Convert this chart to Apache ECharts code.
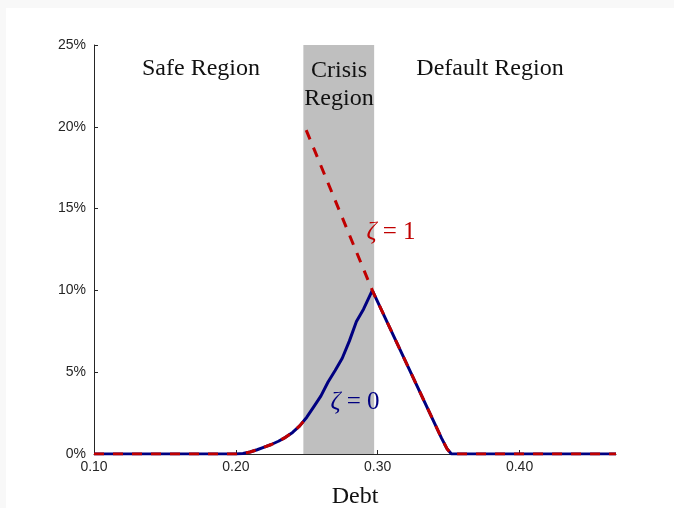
<!DOCTYPE html>
<html>
<head>
<meta charset="utf-8">
<script src="https://cdn.jsdelivr.net/npm/echarts@6/dist/echarts.min.js"></script>
<style>
  html, body { margin: 0; padding: 0; background: #f8f8f8; overflow: hidden; }
  #chart { position: absolute; left: 6px; top: 8px; width: 668px; height: 500px; background: #fff; }
</style>
</head>
<body>
<div id="chart"></div>
<script>
// debt grid and default probability (%) for zeta = 0
var blueX = [0.10, 0.20, 0.205, 0.21, 0.215, 0.22, 0.225, 0.23, 0.235, 0.24, 0.245, 0.25, 0.255, 0.26, 0.265, 0.27, 0.275, 0.28, 0.285, 0.29, 0.2962, 0.305, 0.315, 0.325, 0.335, 0.345, 0.349, 0.352, 0.468];
var blueY = [0, 0, 0.03, 0.12, 0.26, 0.42, 0.58, 0.78, 1.02, 1.32, 1.72, 2.25, 2.9, 3.55, 4.4, 5.1, 5.85, 6.9, 8.1, 8.85, 10.0, 8.37, 6.52, 4.67, 2.82, 0.97, 0.3, 0, 0];
// zeta = 1: follows zeta = 0 outside the crisis region
var redX = [0.10, 0.20, 0.205, 0.21, 0.215, 0.22, 0.225, 0.23, 0.235, 0.24, 0.245, 0.2476, null, 0.2496, 0.2962, 0.305, 0.315, 0.325, 0.335, 0.345, 0.349, 0.352, 0.468];
var redY = [0, 0, 0.03, 0.12, 0.26, 0.42, 0.58, 0.78, 1.02, 1.32, 1.72, 1.98, null, 19.8, 10.0, 8.37, 6.52, 4.67, 2.82, 0.97, 0.3, 0, 0];
var crisisRange = [0.2476, 0.2975];
var yTicks = [0, 5, 10, 15, 20, 25];

var serif = 'Liberation Serif, DejaVu Serif, serif';
var navy = '#000080';
var red = '#c00000';

function pairs(xs, ys) {
    return xs.map(function (x, i) {
        return x === null ? [null, null] : [x, ys[i]];
    });
}

var chart = echarts.init(document.getElementById('chart'), null, { width: 668, height: 500 });

var option = {
    animation: false,
    grid: { left: 88, right: 58, top: 37, bottom: 54, outerBoundsMode: 'none' },
    xAxis: {
        type: 'value',
        min: 0.1,
        max: 0.468,
        interval: 0.1,
        name: 'Debt',
        nameLocation: 'middle',
        nameGap: 31,
        nameTextStyle: { fontFamily: serif, fontSize: 24, color: '#111' },
        axisLine: { lineStyle: { color: '#262626', width: 1 } },
        axisTick: { inside: true, length: 4, lineStyle: { color: '#262626' } },
        axisLabel: {
            showMaxLabel: false,
            color: '#262626',
            fontSize: 14,
            fontFamily: 'Liberation Sans, Arial, sans-serif',
            margin: 6,
            formatter: function (v) { return v.toFixed(2); }
        },
        splitLine: { show: false }
    },
    yAxis: {
        type: 'value',
        min: yTicks[0],
        max: yTicks[yTicks.length - 1],
        interval: 5,
        axisLine: { show: true, lineStyle: { color: '#262626', width: 1 } },
        axisTick: { show: true, inside: true, length: 4, lineStyle: { color: '#262626' } },
        axisLabel: {
            color: '#262626',
            fontSize: 14,
            fontFamily: 'Liberation Sans, Arial, sans-serif',
            margin: 8,
            formatter: '{value}%'
        },
        splitLine: { show: false }
    },
    series: [
        {
            type: 'line',
            data: [],
            z: 1,
            markArea: {
                silent: true,
                itemStyle: { color: '#bfbfbf' },
                data: [[{ xAxis: crisisRange[0], yAxis: 0 }, { xAxis: crisisRange[1], yAxis: 25 }]]
            }
        },
        {
            name: 'zeta0',
            type: 'line',
            data: pairs(blueX, blueY),
            showSymbol: false,
            z: 3,
            lineStyle: { color: navy, width: 3 }
        },
        {
            name: 'zeta1',
            type: 'line',
            data: pairs(redX, redY),
            connectNulls: false,
            showSymbol: false,
            z: 4,
            lineStyle: { color: red, width: 3, type: [10, 9] }
        }
    ],
    graphic: [
        { type: 'text', z: 100, x: 195, y: 49, style: { text: 'Safe Region', font: '24px ' + serif, fill: '#111', align: 'center' } },
        { type: 'text', z: 100, x: 333, y: 49, style: { text: 'Crisis\nRegion', font: '24px ' + serif, fill: '#111', align: 'center', lineHeight: 28 } },
        { type: 'text', z: 100, x: 484, y: 49, style: { text: 'Default Region', font: '24px ' + serif, fill: '#111', align: 'center' } },
        {
            type: 'text', z: 100, x: 385, y: 212,
            style: {
                text: '{i|ζ} = 1', align: 'center', fill: red, font: '25px ' + serif,
                rich: { i: { fontStyle: 'italic', fontFamily: serif, fontSize: 25, fill: red } }
            }
        },
        {
            type: 'text', z: 100, x: 349, y: 382,
            style: {
                text: '{i|ζ} = 0', align: 'center', fill: navy, font: '25px ' + serif,
                rich: { i: { fontStyle: 'italic', fontFamily: serif, fontSize: 25, fill: navy } }
            }
        }
    ]
};

chart.setOption(option);
</script>
</body>
</html>
